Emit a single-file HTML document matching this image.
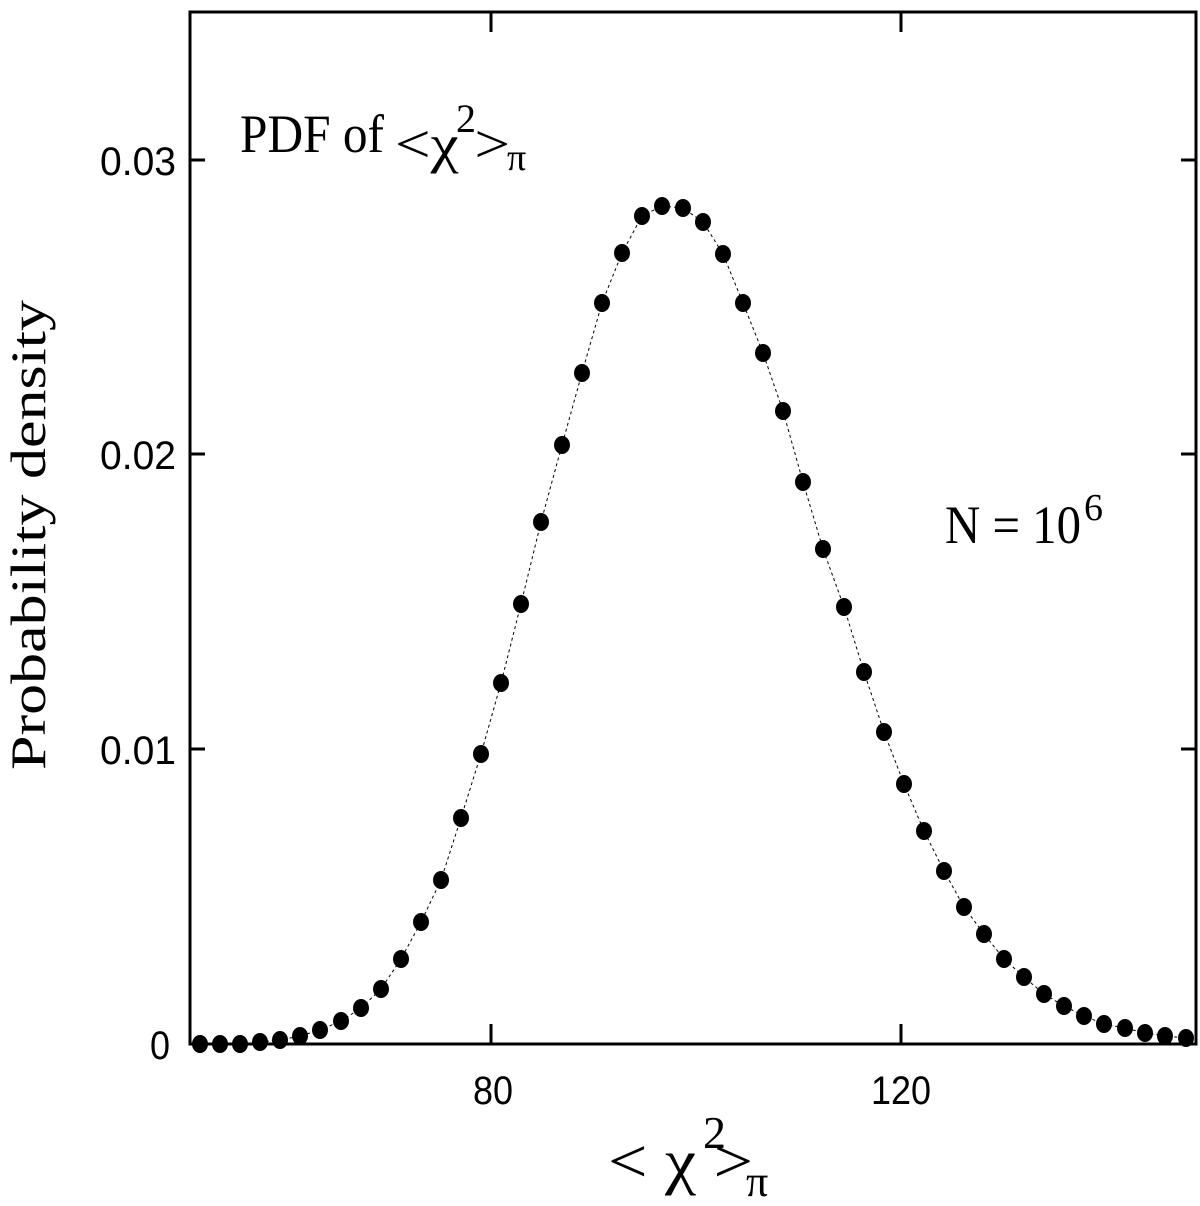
<!DOCTYPE html>
<html><head><style>html,body{margin:0;padding:0;background:#fff}svg{display:block}</style></head>
<body>
<svg width="1200" height="1206" viewBox="0 0 1200 1206" xmlns="http://www.w3.org/2000/svg">
<rect width="1200" height="1206" fill="#fff"/>
<g stroke="#000" stroke-width="3" fill="none">
<rect x="190" y="12" width="1006" height="1032"/>
<path d="M190 749h15M190 454h15M190 160h15M1196 749h-15M1196 454h-15M1196 160h-15M491 1044v-20M901 1044v-20M491 12v20M901 12v20"/>
</g>
<polyline fill="none" stroke="#000" stroke-width="1" stroke-dasharray="3,3" points="200,1044 220,1044 240,1044 260,1042 280,1040 300,1036 320,1030 341,1021 361,1008 381,989 401,959 421,922 441,880 461,818 481,754 501,683 521,604 541,522 562,445 582,373 602,303 622,253 642,216 662,206 683,208 703,222 723,254 743,303 763,353 783,411 803,482 823,549 844,607 864,672 884,732 904,784 924,831 944,871 964,907 984,934 1004,959 1024,977 1044,994 1064,1006 1084,1016 1104,1024 1125,1028 1145,1033 1165,1036 1186,1038"/>
<g font-family="Liberation Sans, sans-serif" font-size="40" fill="#000">
<text x="100" y="175" textLength="76" lengthAdjust="spacingAndGlyphs">0.03</text>
<text x="100" y="469" textLength="76" lengthAdjust="spacingAndGlyphs">0.02</text>
<text x="100" y="764" textLength="76" lengthAdjust="spacingAndGlyphs">0.01</text>
<text x="150" y="1059" textLength="20" lengthAdjust="spacingAndGlyphs">0</text>
<text x="473" y="1104" textLength="40" lengthAdjust="spacingAndGlyphs">80</text>
<text x="871" y="1104" textLength="60" lengthAdjust="spacingAndGlyphs">120</text>
</g>
<g font-family="Liberation Serif, DejaVu Serif, serif" fill="#000">
<text x="240" y="152" font-size="54" textLength="144" lengthAdjust="spacingAndGlyphs">PDF of</text>
<text x="395" y="162" font-size="54" textLength="115" lengthAdjust="spacingAndGlyphs">&lt;χ&#160;&gt;</text>
<text x="456" y="132" font-size="40">2</text>
<text x="507" y="170" font-size="38">π</text>
<text x="945" y="543" font-size="54" textLength="136" lengthAdjust="spacingAndGlyphs">N = 10</text>
<text x="1084" y="520" font-size="38">6</text>
<text x="608" y="1182" font-size="62" textLength="145" lengthAdjust="spacingAndGlyphs">&lt; χ&#160;&gt;</text>
<text x="703" y="1148" font-size="46">2</text>
<text x="746" y="1196" font-size="44">π</text>
<text transform="translate(45,770) rotate(-90)" font-size="50" textLength="470" lengthAdjust="spacingAndGlyphs">Probability density</text>
</g>
<g fill="#000">
<ellipse cx="200" cy="1044" rx="8" ry="9"/><ellipse cx="220" cy="1044" rx="8" ry="9"/><ellipse cx="240" cy="1044" rx="8" ry="9"/><ellipse cx="260" cy="1042" rx="8" ry="9"/><ellipse cx="280" cy="1040" rx="8" ry="9"/><ellipse cx="300" cy="1036" rx="8" ry="9"/><ellipse cx="320" cy="1030" rx="8" ry="9"/><ellipse cx="341" cy="1021" rx="8" ry="9"/><ellipse cx="361" cy="1008" rx="8" ry="9"/><ellipse cx="381" cy="989" rx="8" ry="9"/><ellipse cx="401" cy="959" rx="8" ry="9"/><ellipse cx="421" cy="922" rx="8" ry="9"/><ellipse cx="441" cy="880" rx="8" ry="9"/><ellipse cx="461" cy="818" rx="8" ry="9"/><ellipse cx="481" cy="754" rx="8" ry="9"/><ellipse cx="501" cy="683" rx="8" ry="9"/><ellipse cx="521" cy="604" rx="8" ry="9"/><ellipse cx="541" cy="522" rx="8" ry="9"/><ellipse cx="562" cy="445" rx="8" ry="9"/><ellipse cx="582" cy="373" rx="8" ry="9"/><ellipse cx="602" cy="303" rx="8" ry="9"/><ellipse cx="622" cy="253" rx="8" ry="9"/><ellipse cx="642" cy="216" rx="8" ry="9"/><ellipse cx="662" cy="206" rx="8" ry="9"/><ellipse cx="683" cy="208" rx="8" ry="9"/><ellipse cx="703" cy="222" rx="8" ry="9"/><ellipse cx="723" cy="254" rx="8" ry="9"/><ellipse cx="743" cy="303" rx="8" ry="9"/><ellipse cx="763" cy="353" rx="8" ry="9"/><ellipse cx="783" cy="411" rx="8" ry="9"/><ellipse cx="803" cy="482" rx="8" ry="9"/><ellipse cx="823" cy="549" rx="8" ry="9"/><ellipse cx="844" cy="607" rx="8" ry="9"/><ellipse cx="864" cy="672" rx="8" ry="9"/><ellipse cx="884" cy="732" rx="8" ry="9"/><ellipse cx="904" cy="784" rx="8" ry="9"/><ellipse cx="924" cy="831" rx="8" ry="9"/><ellipse cx="944" cy="871" rx="8" ry="9"/><ellipse cx="964" cy="907" rx="8" ry="9"/><ellipse cx="984" cy="934" rx="8" ry="9"/><ellipse cx="1004" cy="959" rx="8" ry="9"/><ellipse cx="1024" cy="977" rx="8" ry="9"/><ellipse cx="1044" cy="994" rx="8" ry="9"/><ellipse cx="1064" cy="1006" rx="8" ry="9"/><ellipse cx="1084" cy="1016" rx="8" ry="9"/><ellipse cx="1104" cy="1024" rx="8" ry="9"/><ellipse cx="1125" cy="1028" rx="8" ry="9"/><ellipse cx="1145" cy="1033" rx="8" ry="9"/><ellipse cx="1165" cy="1036" rx="8" ry="9"/><ellipse cx="1186" cy="1038" rx="8" ry="9"/>
</g>
</svg>
</body></html>
